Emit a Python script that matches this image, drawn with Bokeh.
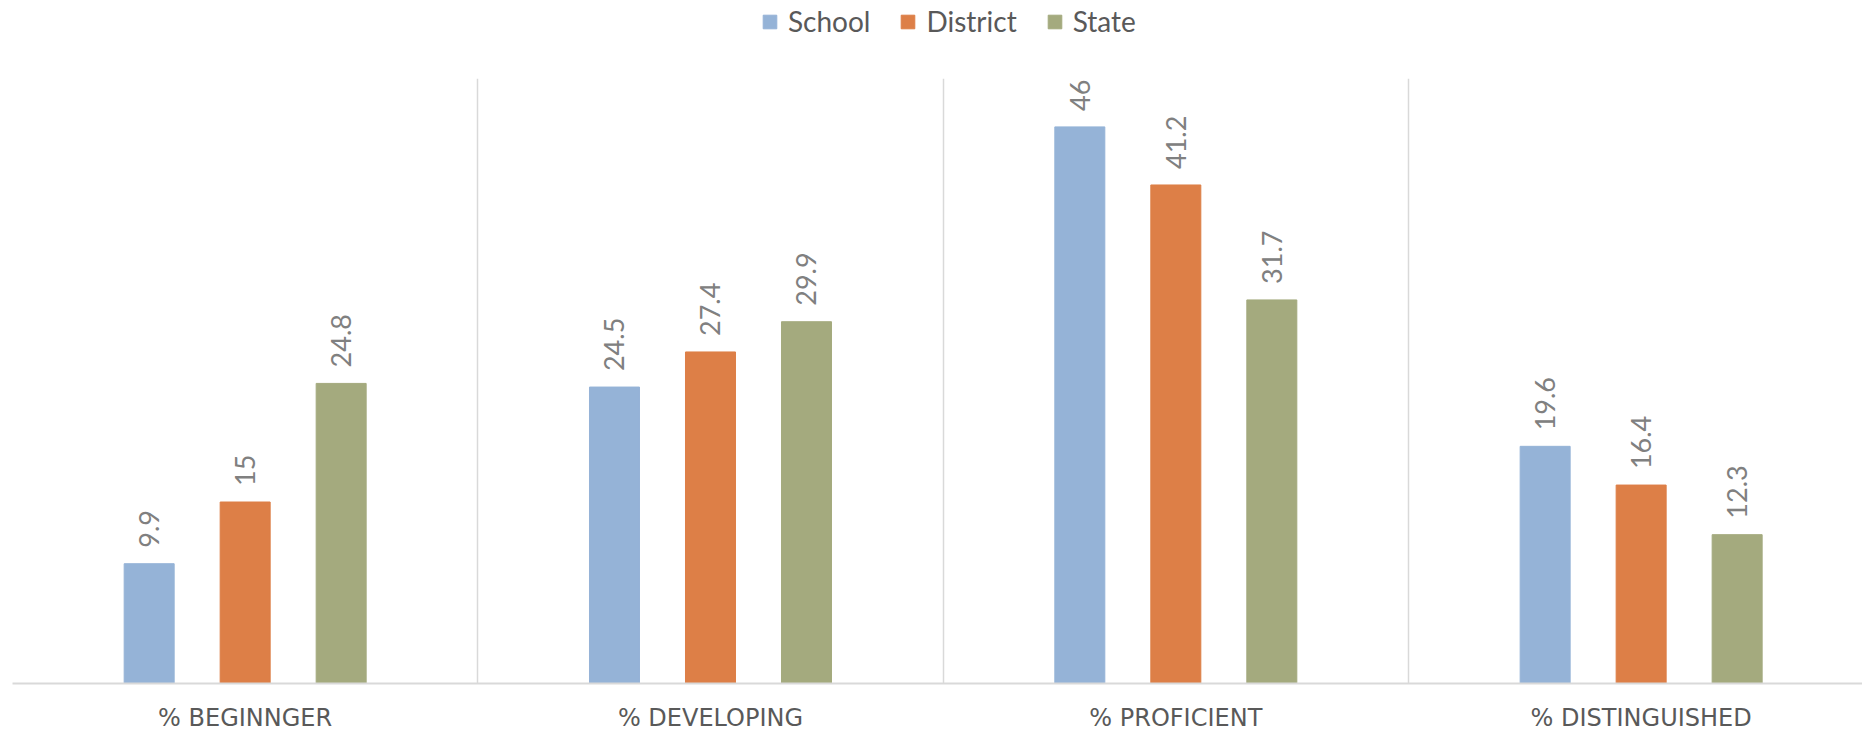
import numpy as np
from bokeh.plotting import figure
from bokeh.layouts import column
from bokeh.models import (ColumnDataSource, Range1d, FixedTicker, LabelSet,
                          Legend, LegendItem)
from bokeh.core.properties import value
from bokeh.embed import file_html
from bokeh.resources import INLINE

# ---- data ----
categories = ["% BEGINNGER", "% DEVELOPING", "% PROFICIENT", "% DISTINGUISHED"]
series = ["School", "District", "State"]
school = [9.9, 24.5, 46, 19.6]
district = [15, 27.4, 41.2, 16.4]
state = [24.8, 29.9, 31.7, 12.3]
colors = ["#95B3D7", "#DD7F47", "#A4AA7E"]

values = [school, district, state]

FONT = "Lato"
W, H = 1862, 734
LEG_H = 78
LEFT, BOTTOM = 12, 50
cat_px = 465.33
x_end = (W - LEFT) / cat_px

# ---- main chart ----
p = figure(width=W, height=H - LEG_H, output_backend="svg", toolbar_location=None,
           x_range=Range1d(0, x_end), y_range=Range1d(0, 50),
           min_border_left=LEFT, min_border_right=0, min_border_top=0,
           min_border_bottom=BOTTOM, outline_line_color=None,
           background_fill_color="white", border_fill_color="white")

idx = np.arange(len(categories))
bar_w = 50 / cat_px
offsets = np.array([-96, 0, 96]) / cat_px

for s, vals, col, off in zip(series, values, colors, offsets):
    src = ColumnDataSource(dict(
        x=idx + 0.5 + off,
        top=vals,
        label=[f"{v:g}" for v in vals],
    ))
    p.vbar(x="x", top="top", bottom=0, width=bar_w, source=src,
           fill_color=col, line_color=col, line_width=1)
    labels = LabelSet(x="x", y="top", text="label", source=src,
                      angle=np.pi / 2, text_align="left", text_baseline="middle",
                      y_offset=16, text_font=value(FONT), text_font_size="27px",
                      text_color="#808080")
    p.add_layout(labels)

p.yaxis.visible = False
p.ygrid.grid_line_color = None
p.xgrid.ticker = FixedTicker(ticks=list(idx))
p.xgrid.grid_line_color = "#D9D9D9"
p.xgrid.grid_line_width = 1.5

xa = p.xaxis[0]
xa.ticker = FixedTicker(ticks=list(idx + 0.5))
xa.major_label_overrides = {float(i + 0.5): c for i, c in enumerate(categories)}
xa.major_tick_line_color = None
xa.minor_tick_line_color = None
xa.major_tick_out = 0
xa.major_tick_in = 0
xa.axis_line_color = "#D9D9D9"
xa.axis_line_width = 2
xa.major_label_standoff = 20
xa.major_label_text_font = "DejaVu Sans"
xa.major_label_text_font_size = "24px"
xa.major_label_text_color = "#595959"

# ---- legend strip ----
lg = figure(width=W, height=LEG_H, output_backend="svg", toolbar_location=None,
            x_range=Range1d(0, 1), y_range=Range1d(0, 1),
            min_border=0, outline_line_color=None,
            background_fill_color="white", border_fill_color="white")
lg.axis.visible = False
lg.grid.visible = False
items = []
for s, col in zip(series, colors):
    # legend proxy glyph, placed outside the visible range
    r = lg.vbar(x=[-5], top=[0], width=0.1, fill_color=col, line_color=col)
    items.append(LegendItem(label=s, renderers=[r]))

legend = Legend(
    items=items, orientation="horizontal", location=(749, 40),
    glyph_width=17, glyph_height=17, label_standoff=10, spacing=29,
    label_height=34, padding=0, margin=0, border_line_color=None,
    background_fill_alpha=0, label_text_font=FONT,
    label_text_font_size="28px", label_text_color="#595959",
    label_text_baseline="middle",
)
lg.add_layout(legend)

layout = column(lg, p, spacing=0)
open("out.html", "w").write(file_html(layout, INLINE))
